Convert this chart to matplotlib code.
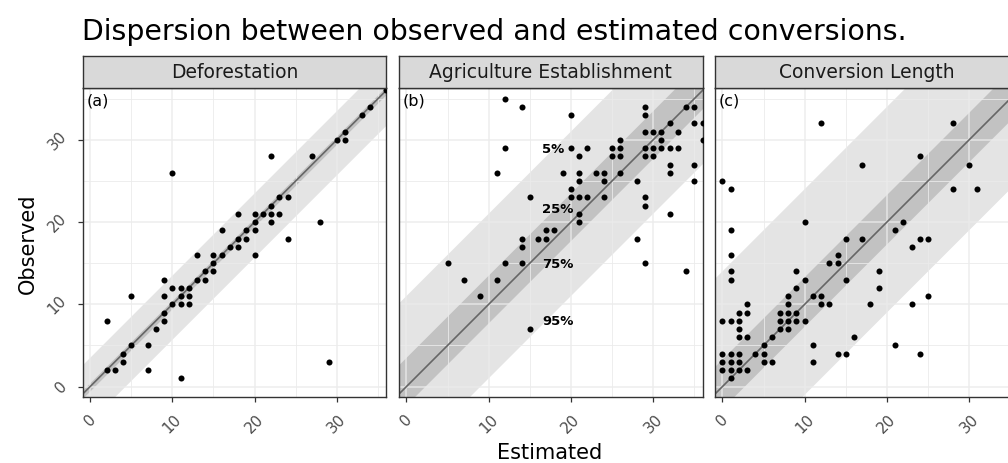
import matplotlib
matplotlib.use("Agg")
import matplotlib.pyplot as plt
import numpy as np

# ---- data ----
panel_titles = ["Deforestation", "Agriculture Establishment", "Conversion Length"]
panel_tags = ["(a)", "(b)", "(c)"]

# (a) Deforestation
defo_est = [2, 2, 3, 4, 4, 5, 5, 7, 7, 8, 9, 9, 9, 9, 10, 10, 10, 11, 11, 11, 11,
            12, 12, 12, 13, 13, 14, 14, 15, 15, 15, 16, 16, 17, 18, 18, 18, 19, 19,
            20, 20, 20, 20, 21, 22, 22, 22, 22, 23, 23, 24, 24, 27, 28, 29, 30, 31,
            31, 33, 34, 36]
defo_obs = [8, 2, 2, 3, 4, 5, 11, 5, 2, 7, 8, 9, 11, 13, 10, 12, 26, 10, 11, 12, 1,
            10, 11, 12, 13, 16, 13, 14, 14, 15, 16, 16, 19, 17, 17, 18, 21, 18, 19,
            19, 20, 21, 16, 21, 21, 22, 20, 28, 21, 23, 23, 18, 28, 20, 3, 30, 30,
            31, 33, 34, 36]

# (b) Agriculture Establishment
agri_est = [12, 14, 20, 12, 11, 15, 5, 7, 9, 11, 12, 14, 14, 14, 16, 17, 17, 18,
            15, 19, 20, 20, 20, 21, 21, 21, 21, 21, 21, 22, 22, 23, 24, 24, 24, 25,
            25, 26, 26, 26, 26, 28, 28, 29, 29, 29, 29, 29, 29, 29, 29, 30, 30, 30,
            31, 31, 31, 32, 32, 32, 32, 32, 33, 33, 34, 34, 35, 35, 35, 35, 36, 36]
agri_obs = [35, 34, 33, 29, 26, 23, 15, 13, 11, 13, 15, 15, 17, 18, 18, 18, 19, 19,
            7, 26, 29, 24, 23, 28, 26, 25, 23, 21, 20, 29, 23, 26, 26, 25, 23, 29,
            28, 30, 29, 28, 26, 25, 18, 34, 33, 31, 29, 28, 23, 22, 15, 31, 29, 28,
            31, 30, 29, 32, 29, 27, 26, 21, 31, 29, 34, 14, 34, 32, 27, 25, 32, 30]

# (c) Conversion Length
conv_est = [12, 28, 24, 17, 30, 0, 1, 28, 31, 10, 1, 21, 22, 15, 17, 24, 25, 23,
            1, 14, 13, 14, 1, 1, 9, 10, 9, 15, 19, 19, 8, 11, 12, 25, 3, 8, 12, 13,
            18, 23, 2, 3, 7, 8, 9, 0, 1, 2, 7, 8, 9, 10, 2, 7, 8, 2, 3, 6, 16, 5,
            11, 21, 0, 1, 2, 4, 5, 14, 15, 24, 0, 1, 2, 5, 6, 11, 0, 1, 2, 3, 1]
conv_obs = [32, 32, 28, 27, 27, 25, 24, 24, 24, 20, 19, 19, 20, 18, 18, 18, 18, 17,
            16, 16, 15, 15, 14, 13, 14, 13, 12, 13, 14, 12, 11, 11, 11, 11, 10, 10,
            10, 10, 10, 10, 9, 9, 9, 9, 9, 8, 8, 8, 8, 8, 8, 8, 7, 7, 7, 6, 6, 6, 6,
            5, 5, 5, 4, 4, 4, 4, 4, 4, 4, 4, 3, 3, 3, 3, 3, 3, 2, 2, 2, 2, 1]

estimated = [defo_est, agri_est, conv_est]
observed = [defo_obs, agri_obs, conv_obs]

# residual quantile offsets around the 1:1 line (5%, 25%, 75%, 95% edges)
band_outer_low = [-4.2, -9.0, -11.0]
band_inner_low = [-0.5, -2.2, -2.6]
band_inner_high = [0.5, 3.6, 3.4]
band_outer_high = [3.6, 11.0, 14.0]

pct_labels = ["5%", "25%", "75%", "95%"]
pct_label_y = [28.9, 21.6, 15.0, 8.0]
pct_label_x = 16.5

ticks = [0, 10, 20, 30]
minor_ticks = [5, 15, 25, 35]

# ---- figure ----
W, H = 1008, 464
fig = plt.figure(figsize=(W / 100, H / 100), dpi=100)
fig.patch.set_facecolor("white")

panel_left_px = [82.7, 399.0, 715.0]
panel_w_px = 303.5
panel_top_px, panel_bot_px = 89.0, 398.3
strip_h_px = 32.0

border_col = "#333333"
grid_col = "#EBEBEB"
tick_col = "#4D4D4D"

xs = np.array([-3, 40])
for i in range(3):
    left = panel_left_px[i] / W
    bottom = 1 - panel_bot_px / H
    ax = fig.add_axes([left, bottom, panel_w_px / W, (panel_bot_px - panel_top_px) / H])
    ax.set_xlim(-0.9, 36.0)
    ax.set_ylim(-1.3, 36.3)

    ax.fill_between(xs, xs + band_outer_low[i], xs + band_outer_high[i],
                    color="#E4E4E4", lw=0, zorder=0.5)
    ax.fill_between(xs, xs + band_inner_low[i], xs + band_inner_high[i],
                    color="#C2C2C2", lw=0, zorder=0.6)

    ax.set_xticks(ticks)
    ax.set_yticks(ticks)
    ax.set_xticks(minor_ticks, minor=True)
    ax.set_yticks(minor_ticks, minor=True)
    ax.set_axisbelow("line")
    ax.grid(True, which="major", color=grid_col, lw=1.1, alpha=0.85)
    ax.grid(True, which="minor", color=grid_col, lw=0.7, alpha=0.85)
    ax.tick_params(which="minor", length=0)

    ax.plot(xs, xs, color="#666666", lw=1.2, zorder=2)
    ax.scatter(estimated[i], observed[i], s=19, color="black", lw=0, zorder=3)

    for sp in ax.spines.values():
        sp.set_color(border_col)
        sp.set_linewidth(1.0)
    ax.tick_params(which="major", length=3.5, width=0.9, color=border_col,
                   labelcolor=tick_col, labelsize=11)
    ax.tick_params(axis="x", pad=6)
    ax.set_xticks(ticks, [str(t) for t in ticks], rotation=45, ha="center", va="top")
    if i == 0:
        ax.tick_params(axis="y", pad=6)
        ax.set_yticks(ticks, [str(t) for t in ticks], rotation=45, ha="right", va="center")
    else:
        ax.tick_params(axis="y", labelleft=False, length=0)

    ax.text(0.012, 0.985, panel_tags[i], transform=ax.transAxes, ha="left", va="top",
            fontsize=11.5, color="black")

    if i == 1:
        for lab, ly in zip(pct_labels, pct_label_y):
            ax.text(pct_label_x, ly, lab, ha="left", va="center", fontsize=9.5,
                    fontweight="bold", color="black", zorder=4)

    # facet strip
    sax = fig.add_axes([left, 1 - panel_top_px / H, panel_w_px / W, strip_h_px / H])
    sax.set_facecolor("#D9D9D9")
    sax.set_xticks([])
    sax.set_yticks([])
    for sp in sax.spines.values():
        sp.set_color(border_col)
        sp.set_linewidth(1.0)
    sax.text(0.5, 0.5, panel_titles[i], ha="center", va="center",
             fontsize=13.5, color="#1A1A1A")

fig.text(82 / W, 1 - 40 / H, "Dispersion between observed and estimated conversions.",
         ha="left", va="baseline", fontsize=20.4, color="black")
fig.text(28 / W, 1 - 243.5 / H, "Observed", rotation=90, ha="center", va="center",
         fontsize=15, color="black")
fig.text(550 / W, 1 - 453 / H, "Estimated", ha="center", va="center",
         fontsize=15, color="black")

fig.savefig("out.png", dpi=100)
